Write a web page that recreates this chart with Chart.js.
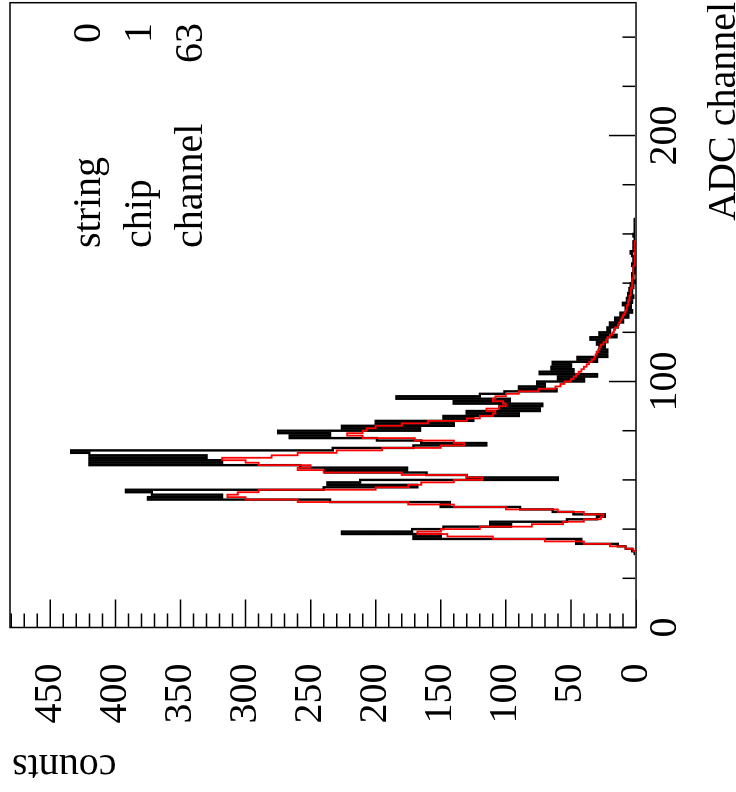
<!DOCTYPE html>
<html>
<head>
<meta charset="utf-8">
<script src="https://cdn.jsdelivr.net/npm/chart.js@4.4.0/dist/chart.umd.min.js"></script>
<style>
  html, body { margin: 0; padding: 0; background: #fff; overflow: hidden; }
  /* the plot is laid out landscape, then turned a quarter turn to the left */
  #wrap { position: absolute; left: 0; top: 0; width: 792px; height: 736px;
          transform-origin: 0 0; transform: translate(0, 792px) rotate(-90deg); }
</style>
</head>
<body>
<div id="wrap"><canvas id="adc" width="792" height="736"></canvas></div>
<script>
// raw spectrum, one entry per ADC bin starting at firstBin
var firstBin = 29;
var rawCounts = [
  0, 0, 1, 3, 8, 14, 46, 42, 171, 150,
  226, 172, 148, 96, 112, 53, 30, 24, 48, 64,
  89, 150, 143, 235, 375, 318, 372, 392, 240, 168,
  237, 212, 60, 130, 161, 239, 176, 258, 420, 318,
  420, 330, 420, 434, 233, 171, 115, 165, 199, 266,
  235, 275, 166, 226, 140, 200, 125, 148, 90, 130,
  74, 105, 72, 140, 97, 184, 120, 101, 61, 90,
  70, 76, 40, 60, 30, 74, 48, 65, 50, 64,
  30, 45, 22, 30, 22, 28, 24, 30, 22, 35,
  15, 28, 20, 22, 14, 20, 10, 16, 6, 12,
  3, 8, 4, 10, 3, 7, 2, 6, 3, 5,
  2, 4, 1, 3, 2, 3, 1, 2, 1, 3,
  1, 2, 1, 3, 4, 1, 2, 1, 2, 1,
  1, 2, 1, 0, 1, 1, 0, 1
];
// smoothed spectrum, same binning
var smoothFirstBin = 29;
var smoothCounts = [
  0, 0, 0, 2, 8, 20, 40, 70, 110, 145,
  168, 150, 120, 80, 56, 40, 27, 25, 40, 60,
  100, 140, 175, 260, 300, 314, 306, 290, 200, 175,
  165, 140, 118, 130, 180, 240, 260, 250, 290, 300,
  318, 280, 260, 230, 195, 150, 132, 140, 170, 210,
  222, 210, 207, 200, 180, 160, 130, 120, 110, 108,
  115, 105, 100, 102, 110, 108, 100, 90, 75, 62,
  58, 55, 50, 48, 46, 44, 42, 40, 38, 36,
  34, 32, 31, 30, 29, 28, 27, 25, 23, 22,
  20, 18, 17, 16, 14, 13, 12, 11, 10, 9,
  8, 7, 7, 6, 6, 5, 5, 4, 4, 4,
  3, 3, 3, 3, 2, 2, 2, 2, 2, 1,
  1, 1, 1, 1, 1, 1, 1, 1, 1, 0
];
var adcRange = [0, 254];
var countRange = [0, 481];
var adcLabels = [0, 100, 200];
var countLabels = [0, 50, 100, 150, 200, 250, 300, 350, 400, 450];
var infoNames = ['string', 'chip', 'channel'];
var infoValues = ['0', '1', '63'];

var serif = "'Liberation Serif', 'Times New Roman', 'DejaVu Serif', serif";

function histPoints(start, counts, lo, hi) {
  var pts = [];
  for (var x = lo; x <= hi; x++) {
    var k = x - start;
    pts.push({ x: x, y: (k >= 0 && k < counts.length) ? counts[k] : 0 });
  }
  return pts;
}

// fixed axis boxes, no extra room for half labels
function fixBox(size) {
  return function(s) {
    if (s.isHorizontal()) s.height = size; else s.width = size;
    s.paddingTop = 0; s.paddingBottom = 0;
    s.paddingLeft = 0; s.paddingRight = 0;
  };
}

// frame and inward ticks, ROOT style
var frameTicks = {
  id: 'frameTicks',
  beforeDatasetsDraw: function(chart) {
    var ctx = chart.ctx, a = chart.chartArea;
    var xs = chart.scales.x, ys = chart.scales.y;
    ctx.save();
    ctx.strokeStyle = '#000';
    ctx.lineWidth = 1.5;
    ctx.strokeRect(a.left, a.top, a.right - a.left, a.bottom - a.top);
    ctx.beginPath();
    xs.ticks.forEach(function(t) {
      var p = xs.getPixelForValue(t.value);
      var len = adcLabels.indexOf(t.value) >= 0 ? 27 : 13.5;
      ctx.moveTo(p, a.bottom);
      ctx.lineTo(p, a.bottom - len);
    });
    ys.ticks.forEach(function(t) {
      var p = ys.getPixelForValue(t.value);
      var len = countLabels.indexOf(t.value) >= 0 ? 28 : 14;
      ctx.moveTo(a.left, p);
      ctx.lineTo(a.left + len, p);
    });
    ctx.stroke();
    ctx.restore();
  },
  afterDraw: function(chart) {
    var ctx = chart.ctx;
    ctx.save();
    ctx.fillStyle = '#000';
    ctx.font = '40px ' + serif;
    ctx.textBaseline = 'alphabetic';
    // axis titles
    ctx.textAlign = 'right';
    ctx.fillText('ADC channel', 790, 735);
    ctx.save();
    ctx.translate(37, 12);
    ctx.rotate(-Math.PI / 2);
    ctx.fillText('counts', 0, 0);
    ctx.restore();
    // info box
    for (var i = 0; i < infoNames.length; i++) {
      var y = 100 + i * 51;
      ctx.textAlign = 'left';
      ctx.fillText(infoNames[i], 544, y);
      ctx.textAlign = 'right';
      ctx.fillText(infoValues[i], 769, y);
    }
    ctx.restore();
  }
};

var tickFont = { family: serif, size: 40 };

new Chart(document.getElementById('adc'), {
  type: 'line',
  data: {
    datasets: [{
      label: 'smoothed',
      data: histPoints(smoothFirstBin, smoothCounts, adcRange[0], adcRange[1]),
      stepped: 'after',
      borderColor: '#ff0000',
      borderWidth: 1.8,
      pointRadius: 0,
      fill: false
    }, {
      label: 'raw',
      data: histPoints(firstBin, rawCounts, firstBin, firstBin + rawCounts.length),
      stepped: 'after',
      borderColor: '#000000',
      borderWidth: 2.4,
      pointRadius: 0,
      fill: false
    }]
  },
  options: {
    responsive: false,
    animation: false,
    devicePixelRatio: 1,
    layout: { padding: { top: 10, right: 2.7, left: 0, bottom: 0 } },
    plugins: { legend: { display: false }, tooltip: { enabled: false } },
    scales: {
      x: {
        type: 'linear',
        min: adcRange[0],
        max: adcRange[1],
        afterFit: fixBox(100),
        grid: { display: false, drawTicks: false },
        border: { display: false },
        ticks: {
          stepSize: 20, includeBounds: false, autoSkip: false, maxRotation: 0,
          padding: 5, color: '#000', font: tickFont,
          callback: function(v) { return adcLabels.indexOf(v) >= 0 ? String(v) : ''; }
        }
      },
      y: {
        type: 'linear',
        min: countRange[0],
        max: countRange[1],
        afterFit: fixBox(164.5),
        grid: { display: false, drawTicks: false },
        border: { display: false },
        ticks: {
          stepSize: 10, includeBounds: false, autoSkip: false,
          padding: 36, color: '#000', font: tickFont,
          callback: function(v) { return countLabels.indexOf(v) >= 0 ? String(v) : ''; }
        }
      }
    }
  },
  plugins: [frameTicks]
});
</script>
</body>
</html>
